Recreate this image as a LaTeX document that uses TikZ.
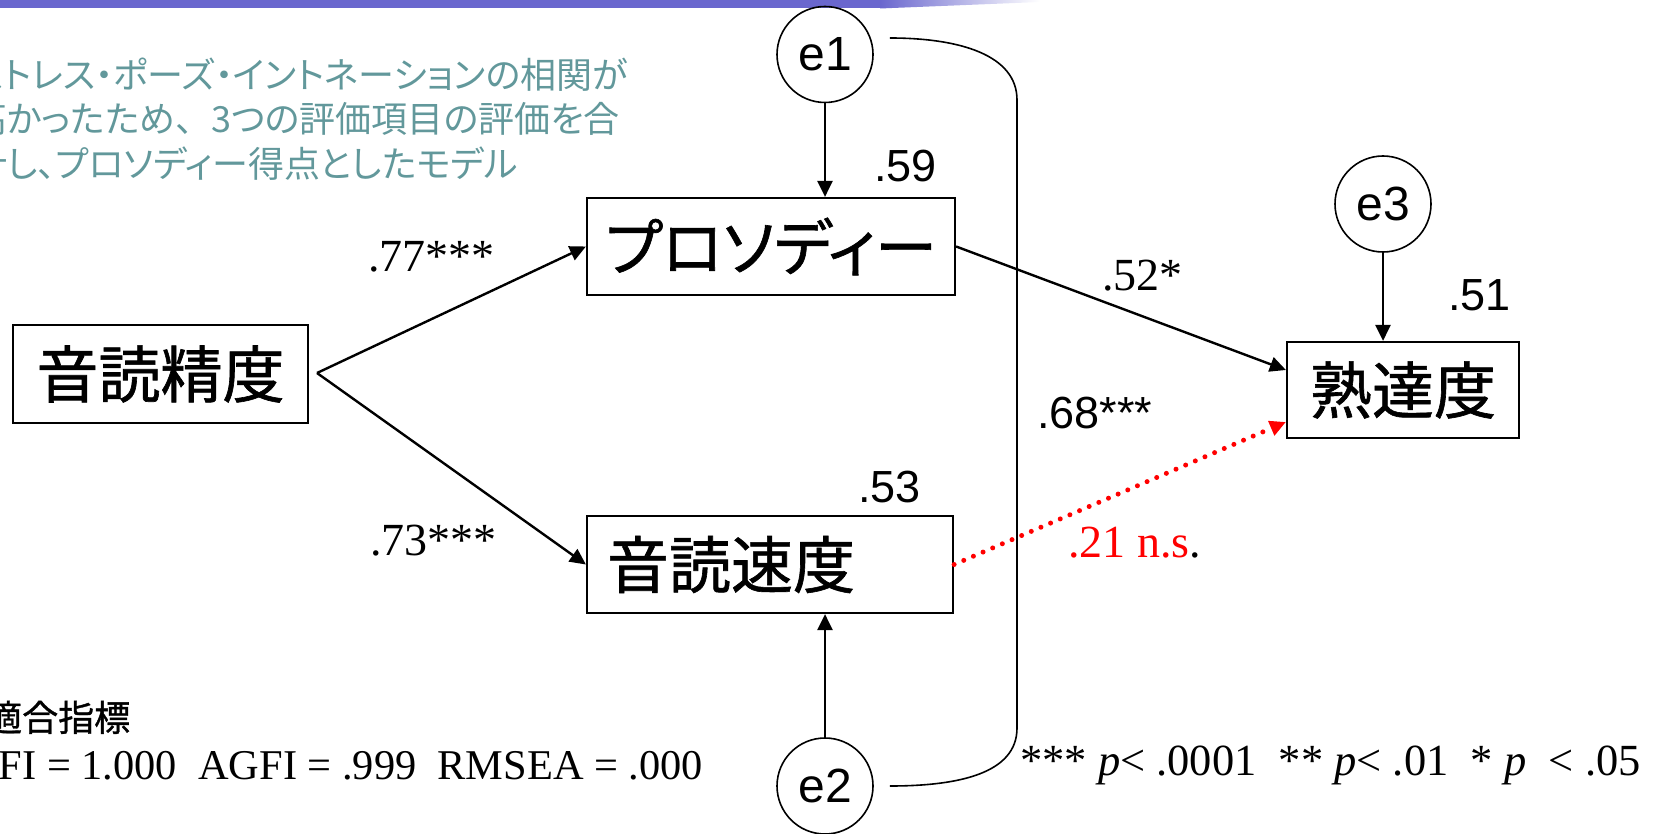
\documentclass[tikz,border=0pt]{standalone}
\usepackage{fontspec}
\setmainfont{Liberation Serif}
\newfontfamily\arialf{Liberation Sans}
\newfontfamily\jpf{Noto Sans CJK JP}
\newfontfamily\jpbf[FakeBold=1]{Noto Sans CJK JP}
\newfontfamily\jppf[RawFeature=+palt]{Noto Sans CJK JP}
\newfontfamily\jppbf[RawFeature=+palt,FakeBold=1]{Noto Sans CJK JP}
\usetikzlibrary{arrows.meta}
\definecolor{barc}{RGB}{106,103,206}
\definecolor{tealc}{RGB}{98,152,155}
\begin{document}
\begin{tikzpicture}[x=1pt,y=-1pt,
  box/.style={draw, line width=2.2pt, inner sep=0pt, font=\jpbf\fontsize{62}{66}\selectfont},
  err/.style={circle, draw, line width=1.6pt, minimum size=96pt, inner sep=0pt, font=\arialf\fontsize{48}{52}\selectfont},
  arr/.style={line width=2.4pt, -{Triangle[length=16pt,width=15pt]}},
  reddot/.style={red, line width=5pt, line cap=round, dash pattern=on 0pt off 10.5pt, -{Triangle[length=16pt,width=15pt,line cap=butt]}},
  cov/.style={line width=1.6pt},
  lbl/.style={anchor=base west, inner sep=0pt},
  note/.style={lbl, font=\jppf\fontsize{36}{44}\selectfont, text=tealc},
  tnr/.style={font=\fontsize{46}{50}\selectfont},
  ari/.style={font=\arialf\fontsize{45}{50}\selectfont}]
\useasboundingbox (0,0) rectangle (1653,834);
% top bar
\fill[barc] (0,0) rectangle (881,8.5);
\shade[left color=barc, right color=white] (880,0) -- (1040,0) -- (1040,2) .. controls (960,5) .. (880,8.5) -- cycle;
% note text
\node[note] (note1) at (-29,89) {ストレス・ポーズ・イントネーションの相関が};
\node[note] (note2) at (-29,133) {高かったため{\jpf 、}3つの評価項目の評価を合};
\node[note] (note3) at (-29,178) {計し、プロソディー得点としたモデル};
% boxes
\node[box, minimum width=295pt, minimum height=98pt] (acc) at (160.5,374) {音読精度};
\node[box, minimum width=368pt, minimum height=97pt, font=\jppbf\fontsize{62}{66}\selectfont] (pro) at (771,246.5) {プロソディー};
\node[box, minimum width=366pt, minimum height=97pt, text width=326pt, align=left, inner xsep=20pt] (spd) at (770,564.5) {音読速度};
\node[box, minimum width=232pt, minimum height=96pt] (mat) at (1403,390) {熟達度};
% error circles
\node[err] (e1) at (825,54.5) {e1};
\node[err] (e2) at (825,786) {e2};
\node[err] (e3) at (1383,204) {e3};
% paths
\coordinate (src) at (317,373);
\draw[arr] (src) -- (pro.west);
\draw[arr] (src) -- (spd.west);
\draw[arr] (e1.south) -- (e1.south |- pro.north);
\draw[arr] (e2.north) -- (e2.north |- spd.south);
\draw[arr] (e3.south) -- (e3.south |- mat.north);
\draw[arr] (pro.east) -- ([yshift=20pt]mat.west);
\draw[reddot] (spd.east) -- ([yshift=-32pt]mat.west);
% covariance
\coordinate (ctop) at (1017,100);
\coordinate (cbot) at (1017,728);
\draw[cov] ([xshift=16pt,yshift=16.5pt]e1.east) .. controls +(70,0) and +(0,-45) .. (ctop) -- (cbot) .. controls +(0,45) and +(70,0) .. ([xshift=16pt]e2.east);
% coefficient labels
\node[lbl, tnr] (l77) at (368,272) {.77***};
\node[lbl, tnr] (l73) at (370,555) {.73***};
\node[lbl, tnr] (l52) at (1102,290) {.52*};
\node[lbl, ari] (l68) at (1037,428) {.68***};
\node[lbl, tnr] (l21) at (1068,557) {\textcolor{red}{.21 n.s}.};
\node[lbl, ari] (l59) at (874,182) {.59};
\node[lbl, ari] (l53) at (858,502) {.53};
\node[lbl, ari] (l51) at (1448,310) {.51};
% fit indices
\node[lbl, font=\jpbf\fontsize{36}{40}\selectfont] (fith) at (-14,731) {適合指標};
\node[lbl, font=\fontsize{42.4}{48}\selectfont] (fit) at (-32,779) {GFI = 1.000\ \ AGFI = .999\ \ RMSEA = .000};
\node[lbl, font=\fontsize{44.5}{48}\selectfont] (sig) at (1020,775) {*** \textit{p}< .0001\ \ ** \textit{p}< .01\ \ * \textit{p}\ \ < .05};
\end{tikzpicture}
\end{document}
